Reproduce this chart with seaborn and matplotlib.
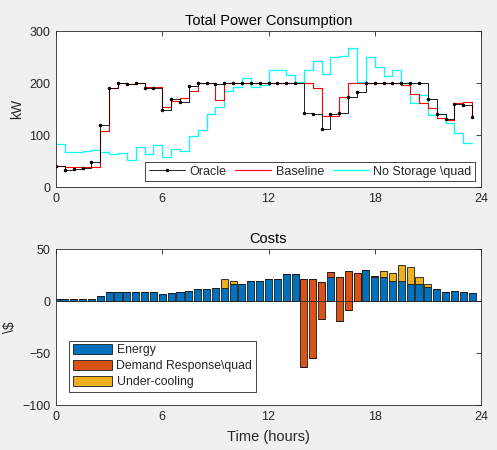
import numpy as np
import pandas as pd
import seaborn as sns
import matplotlib
matplotlib.use("Agg")
import matplotlib.pyplot as plt

sns.set_style("white")
plt.rcParams['font.family'] = ['Liberation Sans', 'DejaVu Sans']

# half-hour time steps
hours = np.arange(48) * 0.5

oracle = [41, 33, 35, 37, 49, 119, 190, 200, 198, 200, 191, 191,
          148, 170, 163, 195, 200, 200, 198, 200, 200, 200, 200, 200,
          200, 200, 200, 200, 142, 140, 112, 140, 142, 174, 182, 200,
          200, 200, 200, 200, 200, 200, 170, 140, 130, 160, 157, 135]
baseline = [40, 38, 38, 38, 38, 108, 190, 200, 198, 200, 193, 193,
            153, 166, 172, 185, 200, 200, 167, 200, 200, 200, 200, 200,
            200, 200, 200, 200, 200, 191, 137, 137, 173, 200, 200, 200,
            200, 200, 200, 197, 179, 161, 151, 133, 128, 161, 164, 137]
no_storage = [82, 67, 67, 70, 72, 67, 64, 66, 51, 77, 64, 80,
              58, 73, 70, 99, 109, 141, 153, 184, 193, 210, 193, 197,
              225, 225, 216, 201, 225, 242, 218, 250, 251, 267, 201, 250,
              231, 214, 225, 200, 162, 177, 138, 141, 124, 104, 84, 84]

energy = [2.2, 1.6, 1.6, 2.2, 2.2, 5.1, 8.3, 8.3, 8.3, 8.3, 8.3, 8.3,
          6.7, 7.6, 8.3, 9.9, 11.5, 11.5, 12.7, 12.7, 16.2, 16.5, 19.1, 19.1,
          20.7, 20.7, 25.8, 25.8, 21.2, 21.2, 18.1, 22.7, 23.5, 28.9, 27.2, 29.6,
          23.5, 23.3, 18.8, 18.8, 16.8, 16.8, 13.6, 11.3, 8.3, 9.9, 8.3, 7.6]
demand_resp = [0] * 20 + [0.6] + [0] * 7 + [-84.2, -76.0, -35.6, 5.5, -43.0, -37.8, -27.2, 0,
               0.8] + [0] * 11
under_cool = [0] * 19 + [8.6, 2.6] + [0] * 16 + [5.6, 8.2, 15.9, 16.0, 5.9, 2.3] + [0] * 5

c_energy = "#0072BD"
c_dr = "#D95319"
c_uc = "#EDB120"
dark = "#262626"

fig = plt.figure(figsize=(4.97, 4.5), dpi=100)
fig.patch.set_facecolor("#f0f0f0")
ax1 = fig.add_axes([56 / 497, 1 - 187 / 450, 425 / 497, 156 / 450])
ax2 = fig.add_axes([56 / 497, 1 - 405 / 450, 425 / 497, 156 / 450])

# ---- top: power
sns.lineplot(x=hours, y=no_storage, drawstyle="steps-post", color="#00FFFF",
             lw=0.9, label="No Storage \\quad", ax=ax1, zorder=2)
sns.lineplot(x=hours, y=baseline, drawstyle="steps-post", color="#FF0000",
             lw=0.8, label="Baseline", ax=ax1, zorder=3)
sns.lineplot(x=hours, y=oracle, drawstyle="steps-post", color="k",
             lw=0.6, marker=".", markersize=3.5, markeredgecolor="k",
             label="Oracle", ax=ax1, zorder=4)
h, l = ax1.get_legend_handles_labels()
order = [l.index("Oracle"), l.index("Baseline"), l.index("No Storage \\quad")]
leg1 = ax1.legend([h[i] for i in order], [l[i] for i in order], ncol=3,
                  loc="lower right", fontsize=9, frameon=True, fancybox=False,
                  edgecolor=dark, framealpha=1, handlelength=2.9,
                  columnspacing=0.7, handletextpad=0.35, borderpad=0.3,
                  borderaxespad=0.45)
leg1.get_frame().set_linewidth(0.6)
ax1.set_ylim(0, 300)
ax1.set_yticks([0, 100, 200, 300])
ax1.set_ylabel("kW", fontsize=10, color=dark)
ax1.set_title("Total Power Consumption", fontsize=10.5, color="k", pad=4)

# ---- bottom: costs (stacked like MATLAB, cumulative bottoms)
bar_df = pd.DataFrame({"hour": hours, "energy": energy,
                       "dr": demand_resp, "uc": under_cool})
bottom_dr = bar_df["energy"].values
bottom_uc = bottom_dr + bar_df["dr"].values
bar_kw = dict(x="hour", native_scale=True, orient="x", errorbar=None,
              saturation=1, width=0.8, edgecolor="#1a1a1a", linewidth=0.6, ax=ax2)
sns.barplot(data=bar_df, y="energy", color=c_energy, label="Energy", **bar_kw)
sns.barplot(data=bar_df, y="dr", color=c_dr, bottom=bottom_dr,
            label="Demand Response\\quad", **bar_kw)
sns.barplot(data=bar_df, y="uc", color=c_uc, bottom=bottom_uc,
            label="Under-cooling", **bar_kw)
ax2.axhline(0, color=dark, lw=0.6, zorder=5)
leg2 = ax2.legend(loc="lower left", fontsize=8.8, frameon=True, fancybox=False,
                  edgecolor=dark, framealpha=1, handlelength=3.2,
                  handleheight=0.85, handletextpad=0.35, labelspacing=0.3,
                  borderpad=0.3, borderaxespad=1.1)
leg2.get_frame().set_linewidth(0.6)
ax2.set_ylim(-100, 50)
ax2.set_yticks([-100, -50, 0, 50])
ax2.set_ylabel("\\$", fontsize=10, color=dark, parse_math=False)
ax2.set_xlabel("Time (hours)", fontsize=10.5, color=dark, labelpad=5)
ax2.set_title("Costs", fontsize=10.5, color="k", pad=4)

for ax in (ax1, ax2):
    ax.set_facecolor("white")
    ax.set_xlim(0, 24)
    ax.set_xticks([0, 6, 12, 18, 24])
    ax.set_xticklabels(["0", "6", "12", "18", "24"])
    ax.tick_params(direction="in", length=3.5, width=0.6, top=True, right=True,
                   labelsize=9, colors=dark, labelcolor=dark, pad=4)
    for s in ax.spines.values():
        s.set_color(dark)
        s.set_linewidth(0.6)
ax1.set_xlabel("")

fig.savefig("out.png", dpi=100, facecolor=fig.get_facecolor())
